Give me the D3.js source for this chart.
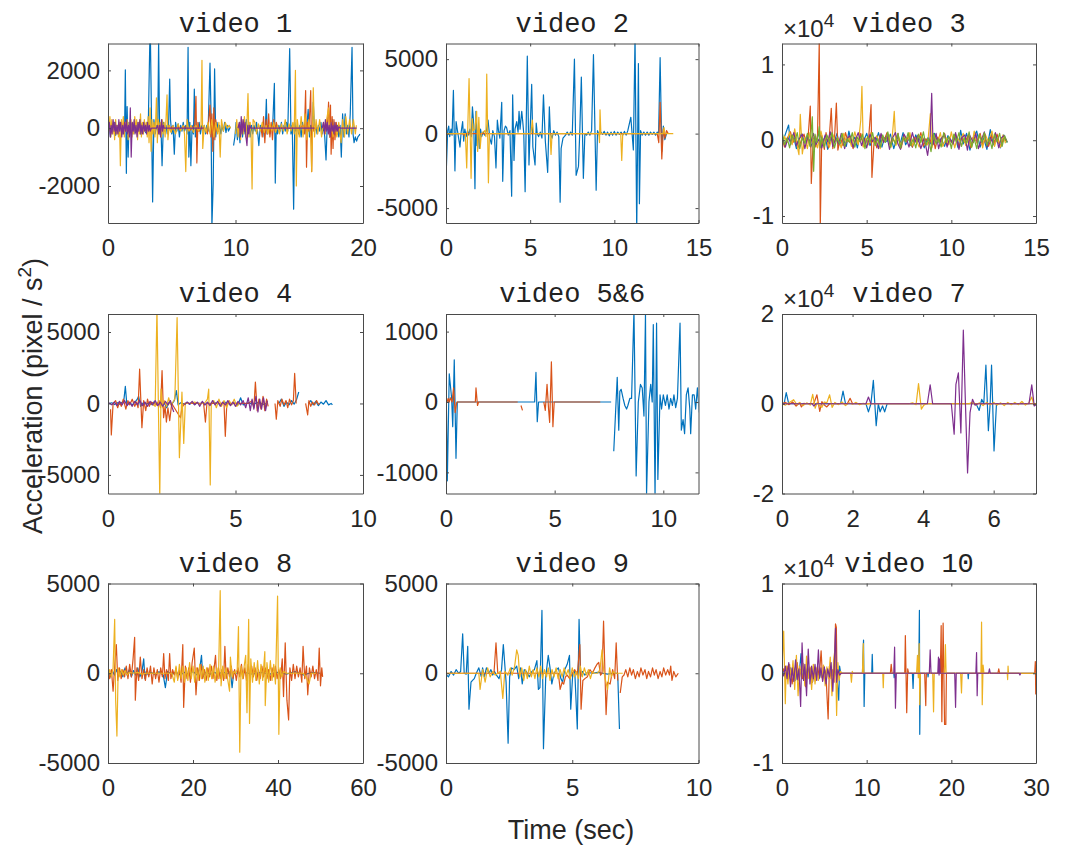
<!DOCTYPE html>
<html><head><meta charset="utf-8">
<script src="https://cdn.jsdelivr.net/npm/d3@7"></script>
<style>body{margin:0;background:#fff}</style>
</head><body>
<script>
// ---------------- DATA: [time (sec), acceleration (pixel/s^2)] ----------------
// video 1
const v1_blue=[[0,-200],[0.1,100],[0.2,-300],[0.3,150],[0.4,-100],[0.5,200],[0.6,-250],[0.7,100],[0.8,-150],[0.9,50],[1.0,200],[1.1,-200],[1.2,100],[1.3,-100],[1.36,2020],[1.44,-1560],[1.5,750],[1.58,-1000],[1.65,200],[1.75,-100],[1.85,150],[1.95,-200],[2.05,100],[2.15,-150],[2.25,200],[2.35,-100],[2.45,100],[2.55,-200],[2.65,150],[2.75,-100],[2.85,100],[2.95,-150],[3.05,200],[3.15,-100],[3.28,3000],[3.33,3000],[3.5,-2550],[3.6,300],[3.7,-200],[3.8,100],[3.9,-100],[3.97,3000],[4.05,-200],[4.15,100],[4.24,-1300],[4.35,200],[4.45,-100],[4.55,100],[4.65,-200],[4.75,100],[4.84,1700],[4.9,300],[5.0,-200],[5.1,100],[5.2,-900],[5.3,200],[5.4,-100],[5.5,150],[5.6,-300],[5.7,100],[5.8,-100],[5.9,200],[6.0,-100],[6.1,100],[6.2,-200],[6.28,2800],[6.34,-1000],[6.42,200],[6.5,-1300],[6.6,100],[6.7,-200],[6.77,1350],[6.85,-300],[6.95,100],[7.05,-100],[7.15,200],[7.25,-200],[7.35,100],[7.45,-100],[7.55,100],[7.65,-200],[7.75,100],[7.85,-100],[8.0,2250],[8.08,500],[8.15,-3400],[8.25,-1900],[8.36,2050],[8.45,-300],[8.55,200],[8.65,-100],[8.75,100],[8.85,-200],[8.95,100],[9.05,-100],[9.15,200],[9.25,-150],[9.35,100],[9.45,-100],[9.6,50],[9.75,null],[9.85,-600],[9.95,-300],[10.05,200],[10.15,-400],[10.25,100],[10.35,-500],[10.45,200],[10.55,-300],[10.65,100],[10.75,-200],[10.85,300],[10.95,-100],[11.05,200],[11.15,-300],[11.25,100],[11.35,-200],[11.45,100],[11.55,-100],[11.65,200],[11.75,-200],[11.83,-600],[11.95,100],[12.05,-100],[12.15,200],[12.25,-300],[12.35,100],[12.42,1000],[12.48,-200],[12.6,100],[12.7,-200],[12.8,100],[12.9,-100],[13.05,1550],[13.12,-1900],[13.2,100],[13.3,-200],[13.4,100],[13.5,-100],[13.6,200],[13.7,-200],[13.8,100],[13.9,-100],[14.0,200],[14.1,-100],[14.25,2750],[14.35,-200],[14.45,100],[14.56,-2800],[14.65,200],[14.75,-100],[14.85,100],[14.95,-200],[15.05,100],[15.15,-300],[15.25,200],[15.35,-100],[15.45,100],[15.55,-200],[15.7,650],[15.8,-300],[15.9,100],[16.0,-200],[16.1,900],[16.2,-100],[16.3,100],[16.4,-200],[16.5,100],[16.6,-100],[16.7,200],[16.8,-200],[16.9,100],[17.0,-300],[17.1,-1100],[17.2,200],[17.3,-100],[17.4,100],[17.5,-200],[17.6,300],[17.7,-100],[17.8,100],[17.9,-200],[18.0,100],[18.1,-300],[18.2,100],[18.3,-1000],[18.4,500],[18.5,-300],[18.6,500],[18.7,-200],[18.8,100],[18.9,-300],[19.0,500],[19.14,2800],[19.22,-200],[19.3,-500],[19.4,-300],[19.5,-450],[19.6,-300],[19.7,-250],[19.75,-200]];
const v1_orange=[[4.7,-200],[4.8,100],[4.9,-100],[5.0,50],[5.1,-50],[5.2,0],[5.4,0],[5.5,80],[5.6,-60],[5.8,0],[6.0,50],[6.2,0],[6.4,-80],[6.6,0],[6.8,100],[6.9,1100],[6.97,-1200],[7.05,200],[7.15,-100],[7.3,0],[7.6,0],[7.8,-200],[7.9,300],[8.0,800],[8.07,-300],[8.15,500],[8.22,-800],[8.3,700],[8.38,-400],[8.45,300],[8.55,-100],[8.65,0],[8.7,null],[12.0,0],[12.1,-300],[12.2,400],[12.3,-500],[12.4,300],[12.5,-200],[12.6,500],[12.7,-300],[12.8,200],[12.9,-400],[13.0,300],[13.1,-100],[13.2,200],[13.3,0],[13.5,0],[13.8,0],[14.2,0],[14.6,0],[15.0,0],[15.3,100],[15.4,-200],[15.5,1300],[15.57,-1350],[15.65,200],[15.75,-100],[15.9,1300],[15.97,-1500],[16.05,200],[16.15,-100],[16.3,0],[16.45,0],[16.5,null],[17.2,0],[17.3,900],[17.38,-300],[17.45,800],[17.5,-900],[17.58,400],[17.65,-700],[17.72,300],[17.8,-400],[17.9,200],[18.0,-200],[18.1,100],[18.2,0]];
const v1_yellow=[[0,200],[0.08,-100],[0.15,400],[0.22,-300],[0.3,300],[0.38,-200],[0.45,200],[0.52,-400],[0.6,300],[0.68,-200],[0.75,100],[0.82,-300],[0.9,200],[0.97,-1300],[1.05,300],[1.12,-200],[1.2,400],[1.28,-300],[1.35,200],[1.42,-100],[1.5,300],[1.58,-400],[1.65,200],[1.72,-200],[1.8,300],[1.88,-300],[1.95,200],[2.02,-200],[2.1,400],[2.18,-100],[2.25,300],[2.32,-400],[2.4,200],[2.48,-200],[2.55,500],[2.62,-300],[2.7,200],[2.78,-200],[2.85,300],[2.92,-100],[3.0,200],[3.08,-300],[3.15,400],[3.22,-500],[3.3,700],[3.38,-800],[3.45,300],[3.52,-200],[3.6,200],[3.68,-300],[3.75,400],[3.8,1050],[3.87,-500],[3.95,300],[4.02,-200],[4.1,200],[4.18,-300],[4.25,300],[4.32,-200],[4.4,200],[4.48,-300],[4.55,300],[4.63,1150],[4.7,-400],[4.8,100],[4.95,-150],[5.1,100],[5.3,-200],[5.5,150],[5.7,-100],[5.9,100],[6.0,-200],[6.1,-1500],[6.2,300],[6.35,-100],[6.5,100],[6.7,-150],[6.9,100],[7.1,-100],[7.3,100],[7.37,2350],[7.43,-700],[7.55,100],[7.7,-150],[7.85,200],[8.0,-200],[8.15,300],[8.3,-300],[8.45,200],[8.6,-200],[8.7,200],[8.8,-1000],[8.9,300],[9.05,-100],[9.2,200],[9.35,0],[9.5,100],[9.62,0],[9.7,null],[10.0,-200],[10.1,300],[10.2,-300],[10.3,200],[10.4,-400],[10.5,300],[10.6,-200],[10.7,400],[10.8,-300],[10.9,200],[10.98,1200],[11.05,-300],[11.15,200],[11.22,-200],[11.3,-2100],[11.38,300],[11.52,200],[11.65,-200],[11.8,150],[11.95,-100],[12.1,200],[12.25,-150],[12.4,100],[12.55,-200],[12.7,150],[12.85,-100],[13.0,200],[13.15,-150],[13.3,100],[13.45,-200],[13.6,150],[13.75,-100],[13.9,300],[14.05,-200],[14.2,150],[14.35,-100],[14.5,200],[14.6,-200],[14.7,2000],[14.77,-2000],[14.85,300],[15.0,-300],[15.15,400],[15.3,-300],[15.45,500],[15.6,-400],[15.75,300],[15.9,-300],[15.98,-1500],[16.1,1400],[16.2,-300],[16.32,300],[16.45,-200],[16.6,300],[16.75,-300],[16.9,200],[17.05,-200],[17.15,300],[17.3,700],[17.38,-300],[17.5,200],[17.65,-300],[17.8,200],[17.95,-300],[18.1,200],[18.28,-500],[18.4,300],[18.55,-300],[18.65,400],[18.8,-200],[18.95,300],[19.1,-200],[19.25,300],[19.4,-200],[19.48,100]];
const v1_purple=[[0,0],[0.1,200],[0.18,-300],[0.25,100],[0.32,-200],[0.4,300],[0.48,-100],[0.55,200],[0.62,-200],[0.7,100],[0.78,-200],[0.85,300],[0.92,-100],[1.0,200],[1.08,-300],[1.15,100],[1.22,-200],[1.3,200],[1.38,-100],[1.45,300],[1.52,-200],[1.6,100],[1.68,-300],[1.75,700],[1.82,-1000],[1.9,200],[1.98,-100],[2.05,300],[2.12,-200],[2.2,100],[2.28,-300],[2.35,200],[2.42,-100],[2.5,300],[2.58,-200],[2.65,100],[2.72,-200],[2.8,200],[2.88,-100],[2.95,100],[3.02,-200],[3.1,200],[3.18,-100],[3.25,100],[3.32,-100],[3.4,0],[3.8,0],[3.9,100],[3.98,-200],[4.05,100],[4.12,-300],[4.2,300],[4.28,-100],[4.35,100],[4.4,0],[5,0],[6,0],[7,0],[7.5,0],[7.6,null],[10.2,0],[10.3,200],[10.38,-300],[10.45,400],[10.52,-200],[10.6,300],[10.68,-100],[10.75,200],[10.82,-300],[10.9,-600],[10.98,100],[11.05,-200],[11.12,100],[11.2,0],[12,0],[13,0],[14,0],[15,0],[16,0],[16.2,0],[16.3,null],[16.8,0],[16.9,200],[16.98,-200],[17.05,300],[17.12,-100],[17.2,200],[17.28,-200],[17.35,100],[17.42,-300],[17.5,200],[17.58,-100],[17.65,100],[17.72,-200],[17.8,200],[17.88,-100],[17.95,100],[18.02,-100],[18.1,50],[18.2,0],[18.5,0],[19,0],[19.5,0]];
// video 2
const v2_blue=[[0.02,-2400],[0.1,200],[0.16,500],[0.22,-200],[0.3,300],[0.36,-100],[0.44,2900],[0.53,-2500],[0.6,800],[0.68,200],[0.75,-300],[0.83,-900],[0.9,100],[0.99,800],[1.05,-500],[1.12,300],[1.2,-200],[1.28,200],[1.35,-100],[1.42,300],[1.5,-200],[1.57,1800],[1.65,600],[1.72,-3700],[1.78,1500],[1.84,-800],[1.9,200],[1.98,-1000],[2.05,300],[2.12,-200],[2.2,100],[2.3,-100],[2.4,200],[2.5,900],[2.6,-300],[2.7,-700],[2.78,200],[2.88,-200],[2.97,-2300],[3.05,900],[3.12,200],[3.2,-300],[3.31,2100],[3.37,-3200],[3.45,200],[3.53,500],[3.6,400],[3.7,-100],[3.8,200],[3.9,-4200],[3.96,2600],[4.04,-1800],[4.1,300],[4.2,800],[4.28,100],[4.34,1500],[4.4,300],[4.5,1500],[4.56,800],[4.62,0],[4.7,-3900],[4.83,5200],[4.93,-2100],[5.0,300],[5.09,3300],[5.16,-900],[5.29,-2100],[5.36,700],[5.42,0],[5.5,-200],[5.6,100],[5.7,-300],[5.79,2600],[5.9,-500],[6.04,-2600],[6.14,1800],[6.2,0],[6.3,-300],[6.4,200],[6.5,-100],[6.6,100],[6.7,-200],[6.78,-4600],[6.84,-1000],[6.95,-300],[7.1,-100],[7.2,100],[7.3,-100],[7.4,100],[7.5,-100],[7.63,5000],[7.73,-2800],[7.87,-2200],[7.95,200],[8.04,3800],[8.16,-3000],[8.25,0],[8.35,-100],[8.45,100],[8.55,-100],[8.65,200],[8.76,5300],[8.92,-3800],[9.0,200],[9.1,-100],[9.2,100],[9.3,-50],[9.4,150],[9.5,-100],[9.6,100],[9.7,-150],[9.8,100],[9.9,-100],[10.0,150],[10.1,-100],[10.2,100],[10.3,-50],[10.4,100],[10.5,-100],[10.6,150],[10.7,-100],[10.8,200],[10.98,1100],[11.13,-1100],[11.23,6500],[11.33,-6500],[11.43,4700],[11.49,-4700],[11.56,200],[11.65,-100],[11.75,100],[11.85,-100],[11.95,100],[12.05,-100],[12.15,100],[12.25,-50],[12.35,100],[12.45,-100],[12.55,100],[12.63,0],[12.72,5100],[12.82,-1200],[12.91,500],[13.0,-400],[13.1,0]];
const v2_orange=[[0,0],[1.0,0],[1.05,-100],[1.1,0],[12.55,0],[12.64,-600],[12.72,2100],[12.82,-1700],[12.91,300],[13.0,-300],[13.1,200],[13.2,0]];
const v2_yellow=[[0,0],[1.15,0],[1.23,-2300],[1.37,3700],[1.49,-3000],[1.56,1000],[1.62,200],[1.72,300],[1.82,1500],[1.88,-1200],[1.95,1100],[2.03,-1000],[2.1,0],[2.3,200],[2.37,-200],[2.42,4000],[2.52,-3300],[2.58,0],[5.05,0],[5.13,900],[5.2,0],[6.18,0],[6.24,-1400],[6.3,0],[9.08,0],[9.12,-600],[9.15,1600],[9.2,0],[10.38,0],[10.44,-1800],[10.5,0],[12.9,0],[12.95,400],[13.0,0],[13.5,0]];
// video 3
const v3_blue=[[0,-500],[0.2,800],[0.39,2000],[0.5,-600],[0.7,300],[0.85,-1100],[1.0,200],[1.15,900],[1.3,-300],[1.5,600],[1.7,-900],[1.85,100],[2.0,-400],[2.2,1100],[2.4,-200],[2.55,500],[2.7,-1200],[2.9,300],[3.1,-100],[3.25,900],[3.4,-600],[3.6,200],[3.8,-800],[3.95,1200],[4.1,-300],[4.3,400],[4.45,-1000],[4.6,600],[4.8,-200],[5.0,900],[5.2,-700],[5.35,100],[5.5,-400],[5.7,1000],[5.9,-900],[6.05,300],[6.2,-200],[6.4,800],[6.6,-1100],[6.8,400],[7.0,-300],[7.15,1000],[7.3,-600],[7.5,200],[7.7,-900],[7.9,700],[8.05,-200],[8.2,500],[8.4,-1000],[8.6,300],[8.8,-500],[9.0,900],[9.2,-300],[9.4,200],[9.6,-800],[9.8,600],[10.0,-200],[10.2,700],[10.4,-1000],[10.55,1300],[10.7,-500],[10.9,900],[11.1,-1300],[11.3,400],[11.5,1200],[11.7,-900],[11.9,300],[12.1,-1200],[12.3,1400],[12.5,-600],[12.7,200],[12.9,-1000],[13.1,700],[13.3,-300]];
const v3_orange=[[0,300],[0.15,-900],[0.3,200],[0.5,1100],[0.65,-300],[0.8,400],[1.0,-1000],[1.15,100],[1.3,800],[1.45,-500],[1.55,700],[1.67,4500],[1.73,-5700],[1.85,300],[2.0,-900],[2.1,800],[2.2,13000],[2.26,-11500],[2.35,600],[2.5,-1200],[2.6,1000],[2.75,-1000],[2.91,4200],[3.0,-1100],[3.1,200],[3.21,4900],[3.3,-1300],[3.45,300],[3.6,-700],[3.75,1000],[3.9,-200],[4.05,500],[4.2,-1100],[4.35,300],[4.5,-400],[4.65,900],[4.8,-800],[4.95,200],[5.1,-300],[5.26,4700],[5.31,-4900],[5.45,300],[5.6,-1000],[5.8,700],[6.0,-200],[6.2,1000],[6.4,-700],[6.55,200],[6.7,-400],[6.85,900],[7.0,-1000],[7.2,300],[7.35,-200],[7.5,800],[7.7,-900],[7.85,400],[8.0,-300],[8.2,1000],[8.35,-800],[8.5,200],[8.7,-500],[8.9,700],[9.05,-1100],[9.2,400],[9.4,-200],[9.6,900],[9.75,-700],[9.9,100],[10.1,-500],[10.25,800],[10.45,-900],[10.6,300],[10.8,-300],[11.0,700],[11.15,-1000],[11.3,400],[11.5,-200],[11.7,900],[11.85,-600],[12.0,200],[12.2,-800],[12.4,600],[12.55,-300],[12.7,800],[12.9,-900],[13.1,300],[13.25,-200]];
const v3_yellow=[[0,-900],[0.15,500],[0.3,-300],[0.45,1100],[0.6,-600],[0.75,1500],[0.9,-800],[1.0,-1900],[1.08,3400],[1.2,-1800],[1.35,300],[1.5,-1100],[1.65,1000],[1.8,-300],[1.95,500],[2.1,-1000],[2.3,1200],[2.45,-300],[2.6,400],[2.8,-900],[3.0,800],[3.15,-200],[3.3,300],[3.5,-1000],[3.65,900],[3.8,-300],[3.95,400],[4.1,-800],[4.3,1100],[4.5,-600],[4.65,2600],[4.72,7100],[4.8,-900],[4.95,200],[5.1,-600],[5.25,1000],[5.4,-300],[5.6,600],[5.8,-1100],[5.95,400],[6.1,-200],[6.3,800],[6.45,-900],[6.55,1500],[6.63,3800],[6.72,-700],[6.9,300],[7.05,-1000],[7.2,700],[7.4,-200],[7.55,1000],[7.7,-700],[7.9,200],[8.1,-900],[8.25,600],[8.45,-300],[8.6,-600],[8.76,3500],[8.85,-1000],[9.0,400],[9.2,-300],[9.35,1000],[9.5,-800],[9.7,300],[9.85,-600],[10.0,1100],[10.2,-1000],[10.35,400],[10.5,-200],[10.7,900],[10.85,-700],[11.0,200],[11.2,-900],[11.35,1200],[11.5,-400],[11.7,600],[11.85,-1000],[12.0,800],[12.2,-300],[12.4,1200],[12.55,-800],[12.7,300],[12.9,-900],[13.05,700],[13.2,-400]];
const v3_purple=[[0,400],[0.2,-900],[0.35,300],[0.5,-200],[0.7,1000],[0.85,-700],[1.0,100],[1.2,800],[1.35,-1100],[1.5,400],[1.7,-300],[1.85,900],[2.0,-600],[2.2,200],[2.35,-1000],[2.55,700],[2.7,-200],[2.85,1100],[3.0,-800],[3.2,300],[3.35,-500],[3.5,900],[3.7,-1100],[3.85,200],[4.0,600],[4.2,-900],[4.35,100],[4.5,1000],[4.7,-700],[4.85,300],[5.0,-1000],[5.2,800],[5.35,-200],[5.5,400],[5.7,-1100],[5.85,900],[6.0,-300],[6.2,600],[6.35,-1200],[6.5,200],[6.7,1000],[6.85,-500],[7.0,-1200],[7.2,800],[7.35,200],[7.5,-900],[7.7,1000],[7.85,-300],[8.0,600],[8.2,-1100],[8.4,300],[8.6,-2000],[8.75,500],[8.84,6200],[8.92,-600],[9.1,900],[9.25,-1100],[9.4,200],[9.6,800],[9.75,-900],[9.9,300],[10.1,-500],[10.25,1000],[10.45,-1200],[10.6,300],[10.8,700],[10.95,-1300],[11.1,600],[11.3,-300],[11.45,900],[11.6,-1100],[11.8,200],[11.95,1100],[12.1,-900],[12.3,400],[12.45,-400],[12.6,1000],[12.8,-1000],[12.95,300],[13.1,600],[13.3,-200]];
const v3_green=[[0,1200],[0.15,-600],[0.3,300],[0.45,-1000],[0.6,700],[0.75,-200],[0.9,1000],[1.05,-1100],[1.2,300],[1.35,-400],[1.5,900],[1.65,-800],[1.79,3100],[1.87,-4100],[1.95,800],[2.05,-300],[2.15,900],[2.2,1800],[2.26,-1000],[2.35,400],[2.5,-900],[2.65,700],[2.8,-200],[2.95,1000],[3.1,-1000],[3.25,300],[3.4,-500],[3.55,900],[3.7,-800],[3.85,200],[4.0,-300],[4.15,1000],[4.3,-900],[4.45,400],[4.6,-200],[4.75,800],[4.9,-1100],[5.05,500],[5.2,-300],[5.35,1000],[5.5,-700],[5.65,200],[5.8,-900],[5.95,700],[6.1,-300],[6.25,1100],[6.4,-900],[6.55,300],[6.7,-500],[6.85,900],[7.0,-1000],[7.15,400],[7.3,-200],[7.45,1000],[7.6,-700],[7.75,200],[7.9,-1000],[8.05,800],[8.2,-300],[8.35,1100],[8.5,-700],[8.65,300],[8.8,-1500],[8.95,900],[9.1,-500],[9.25,200],[9.4,-900],[9.55,1000],[9.7,-300],[9.85,500],[10.0,-1100],[10.15,800],[10.3,-200],[10.45,1000],[10.6,-800],[10.75,300],[10.9,-400],[11.05,1100],[11.2,-900],[11.35,200],[11.5,-1100],[11.65,800],[11.8,-300],[11.95,1000],[12.1,-700],[12.25,300],[12.4,-1100],[12.55,800],[12.7,-200],[12.85,900],[13.0,-800],[13.15,600],[13.3,-300]];
// video 4
const v4_blue=[[0.05,0],[0.15,50],[0.25,-80],[0.35,60],[0.45,-50],[0.55,80],[0.62,200],[0.68,1200],[0.74,-100],[0.85,50],[0.95,-100],[1.05,80],[1.15,300],[1.2,500],[1.28,-200],[1.4,100],[1.5,-50],[1.6,50],[1.7,-80],[1.8,100],[1.9,-50],[2.0,50],[2.1,-100],[2.2,50],[2.3,-300],[2.4,100],[2.5,-50],[2.6,200],[2.68,900],[2.75,-100],[2.85,50],[3.0,-50],[3.1,80],[3.2,-60],[3.3,50],[3.4,-80],[3.5,60],[3.6,-50],[3.7,80],[3.8,-100],[3.9,60],[4.0,-50],[4.2,50],[4.4,-50],[4.6,80],[4.8,-60],[5.0,50],[5.1,-100],[5.2,400],[5.3,-100],[5.5,50],[5.7,-50],[5.9,80],[6.1,-60],[6.2,0],[6.25,null],[6.7,0],[6.8,300],[6.9,-200],[7.0,100],[7.1,-100],[7.2,200],[7.3,-50],[7.4,300],[7.48,800],[7.55,null],[7.85,0],[7.95,200],[8.05,-100],[8.15,150],[8.25,-150],[8.35,100],[8.45,-50],[8.55,200],[8.65,-100],[8.75,0],[8.8,-100]];
const v4_orange=[[0.1,-400],[0.13,-2200],[0.2,0],[0.3,200],[0.38,-300],[0.45,100],[0.52,-200],[0.6,300],[0.7,-400],[0.78,200],[0.85,-100],[0.95,300],[1.05,-200],[1.12,100],[1.18,-300],[1.24,2400],[1.33,-1700],[1.4,200],[1.48,-500],[1.55,300],[1.62,-200],[1.7,100],[1.8,0],[1.9,-100],[2.0,200],[2.06,-300],[2.12,2300],[2.18,-1000],[2.24,-200],[2.29,-1300],[2.35,-300],[2.42,-1200],[2.5,0],[2.84,-1000],[2.9,-300],[3.0,0],[3.75,0],[3.82,-1300],[3.88,0],[4.55,0],[4.6,-2300],[4.66,0],[5.5,0],[5.65,200],[5.72,-300],[5.78,1500],[5.85,-500],[5.92,300],[6.0,-400],[6.08,500],[6.15,-500],[6.22,300],[6.28,-200],[6.3,null],[6.55,0],[6.6,-1100],[6.66,200],[6.75,-200],[6.82,300],[6.9,-100],[6.98,200],[7.05,-300],[7.12,300],[7.2,-100],[7.27,200],[7.32,2100],[7.38,0],[7.45,null],[7.75,0],[7.83,-800],[7.88,200],[7.95,-200],[8.02,100],[8.1,-100],[8.18,200],[8.25,-50],[8.3,0]];
const v4_yellow=[[1.7,0],[1.85,-200],[1.92,6600],[2.03,-6600],[2.08,1000],[2.14,-300],[2.2,200],[2.3,-200],[2.38,400],[2.45,-100],[2.55,100],[2.62,300],[2.71,6000],[2.8,-3800],[2.9,800],[2.97,-2800],[3.03,0],[3.2,0],[3.4,100],[3.6,-50],[3.8,50],[3.9,300],[3.95,1000],[4.01,-5700],[4.05,0],[4.15,200],[4.25,-300],[4.35,300],[4.45,-200],[4.55,200],[4.65,-300],[4.75,200],[4.85,-100],[4.95,300],[5.05,-200],[5.15,0]];
const v4_purple=[[0.05,50],[0.15,-100],[0.25,100],[0.35,-150],[0.45,150],[0.55,-100],[0.65,200],[0.75,-150],[0.85,100],[0.95,-200],[1.05,150],[1.15,-100],[1.25,200],[1.35,-150],[1.45,100],[1.55,-200],[1.65,150],[1.75,-100],[1.85,200],[1.95,-150],[2.05,100],[2.15,-200],[2.25,150],[2.35,-100],[2.45,200],[2.52,-300],[2.58,-600],[2.62,null],[3.0,-100],[3.1,100],[3.2,-50],[3.3,150],[3.4,-100],[3.5,100],[3.6,-200],[3.7,150],[3.8,-100],[3.9,100],[4.0,-150],[4.1,200],[4.2,-100],[4.3,150],[4.4,-200],[4.5,100],[4.6,-100],[4.7,200],[4.8,-150],[4.9,100],[5.0,-200],[5.1,150],[5.2,-100],[5.3,200],[5.4,-300],[5.5,400],[5.58,-500],[5.65,300],[5.72,-400],[5.8,500],[5.88,-600],[5.95,300],[6.02,-400],[6.1,400],[6.18,-500],[6.25,200]];
// video 5&6
const v5_blue=[[0.02,-100],[0.06,-1120],[0.15,400],[0.26,50],[0.31,-350],[0.38,600],[0.46,-800],[0.52,0],[1,0],[2,0],[3,0],[4.08,0],[4.14,420],[4.2,-280],[4.26,0],[5,0],[6,0],[7,0],[7.6,0],[7.65,null],[7.72,-700],[7.88,350],[7.95,-400],[8.0,150],[8.06,180],[8.15,50],[8.23,-50],[8.31,-100],[8.37,-50],[8.46,50],[8.54,50],[8.65,1300],[8.75,-1050],[8.85,0],[8.95,250],[9.03,200],[9.11,-200],[9.18,1250],[9.23,-1300],[9.34,0],[9.42,250],[9.49,0],[9.54,1100],[9.62,-1350],[9.69,1120],[9.75,-1100],[9.85,100],[9.92,-100],[10.0,100],[10.1,-50],[10.18,100],[10.26,-100],[10.34,50],[10.42,-50],[10.49,100],[10.57,-80],[10.65,50],[10.77,1120],[10.83,-400],[10.91,-250],[10.98,-450],[11.06,100],[11.14,200],[11.22,-100],[11.26,-450],[11.34,100],[11.42,100],[11.49,-100],[11.57,200],[11.65,-150]];
const v5_orange=[[0,30],[0.05,0],[0.1,50],[0.15,0],[0.2,60],[0.28,0],[0.35,200],[0.42,-150],[0.5,0],[1.35,0],[1.38,200],[1.45,-50],[1.5,0],[3.3,0],[3.35,null],[3.45,-50],[3.52,-120],[3.55,null],[4.5,0],[4.57,-120],[4.65,250],[4.72,-100],[4.77,-290],[4.85,570],[4.92,-350],[4.98,0],[6,0],[7.1,0]];
// video 7
const v7_blue=[[0,0],[0.06,0],[0.12,2500],[0.19,0],[1.66,0],[1.73,2800],[1.8,0],[2.38,0],[2.45,-1800],[2.52,0],[2.59,5200],[2.67,-4900],[2.73,0],[2.78,-1800],[2.85,-500],[2.91,-1800],[2.98,0],[5.5,0],[5.59,-1500],[5.66,1000],[5.72,0],[5.78,8600],[5.85,-6000],[5.9,0],[5.94,8600],[6.01,-10500],[6.08,0],[7.2,0]];
const v7_orange=[[0,0],[0.1,300],[0.2,-200],[0.3,400],[0.4,-500],[0.5,200],[0.55,-700],[0.62,100],[0.7,0],[0.9,0],[0.99,2000],[1.07,-1700],[1.13,500],[1.2,-300],[1.27,-700],[1.35,0],[1.85,0],[1.93,1200],[2.0,0],[7.2,0]];
const v7_yellow=[[0,0],[0.1,-300],[0.2,200],[0.33,900],[0.42,-200],[0.5,300],[0.6,-400],[0.7,200],[0.8,-300],[0.87,2100],[0.94,-1000],[1.0,300],[1.07,-500],[1.13,-800],[1.2,400],[1.27,200],[1.35,2000],[1.42,-800],[1.5,300],[1.6,-200],[1.7,400],[1.8,-400],[1.9,200],[2.0,-100],[2.1,300],[2.2,-200],[2.3,100],[2.4,-100],[2.5,0],[3.6,0],[3.7,200],[3.8,-200],[3.87,4500],[3.95,-1200],[4.02,-300],[4.1,0],[5.3,0],[5.4,400],[5.5,-300],[5.6,200],[5.7,-400],[5.8,300],[5.9,-200],[6.0,300],[6.1,-300],[6.2,200],[6.3,-400],[6.4,300],[6.5,-200],[6.6,300],[6.7,-200],[6.8,500],[6.9,-300],[7.0,200],[7.08,1500],[7.14,-300],[7.2,0]];
const v7_purple=[[0,0],[0.85,0],[0.9,-500],[0.97,0],[2.38,0],[2.45,1500],[2.52,0],[4.12,0],[4.2,4200],[4.27,0],[4.8,0],[4.88,-6800],[4.93,4300],[5.0,6900],[5.07,-6500],[5.14,16400],[5.2,0],[5.26,-15400],[5.33,-2000],[5.4,1000],[5.47,-300],[5.55,0],[7.0,0],[7.08,4200],[7.15,-500],[7.2,-200]];
// video 8
const v8_blue=[[0,100],[0.5,-200],[1,150],[1.5,-100],[2,200],[2.5,-150],[3,100],[3.5,-200],[4,300],[4.5,-100],[5,200],[5.5,-200],[6,150],[6.5,-100],[7,300],[7.5,-200],[8,100],[8.4,800],[8.7,-300],[9,100],[9.5,-100],[10,50],[11,-50],[12,80],[13,-100],[13.5,-800],[14,100],[15,-50],[16,50],[17,-100],[18,50],[19,-50],[20,100],[21,-100],[21.6,300],[22,1000],[22.3,-200],[23,50],[24,-50],[25,50],[26,-50],[27,100],[28,-50],[28.8,100],[29.2,-800],[29.6,100],[30,0],[32,50],[34,-50],[36,50],[38,-50],[40,50],[42,-50],[44,100],[46,-100],[48,50],[50,0]];
const v8_orange=[[0,300],[0.4,-300],[0.8,200],[1.2,-1000],[1.6,500],[1.96,1600],[2.3,-400],[2.7,300],[3.1,-300],[3.5,200],[3.9,-200],[4.3,400],[4.7,-300],[5.1,500],[5.5,-200],[5.9,800],[6.27,2000],[6.43,-1500],[6.8,300],[7.2,-400],[7.6,900],[8.0,-300],[8.4,200],[8.8,-400],[9.2,300],[9.6,-200],[10.0,400],[10.4,-600],[10.8,300],[11.2,-300],[11.6,200],[12.0,-500],[12.4,300],[12.8,-200],[13.1,1100],[13.4,-300],[13.8,200],[14.2,-400],[14.5,1100],[14.8,-300],[15.2,200],[15.6,-100],[16.0,300],[16.4,-300],[16.8,200],[17.2,-500],[17.6,1600],[17.8,-1900],[18.2,400],[18.6,-300],[19.0,300],[19.4,-500],[19.8,600],[20.3,1400],[20.7,-1200],[21.1,300],[21.5,-400],[21.9,500],[22.3,-300],[22.7,200],[23.1,-400],[23.5,300],[23.9,-200],[24.3,400],[24.7,-300],[25.3,1000],[25.6,-400],[26.0,300],[26.4,-300],[26.8,200],[27.2,-400],[27.5,1500],[27.8,-300],[28.2,300],[28.6,-200],[29.0,400],[29.4,-300],[29.8,200],[30.2,-400],[30.6,300],[31.0,-200],[31.4,500],[31.8,-300],[32.2,300],[32.6,-400],[33.0,500],[33.4,-300],[33.8,400],[34.2,-200],[34.6,300],[35.0,-400],[35.4,200],[35.8,-300],[36.2,400],[36.6,-200],[37.0,300],[37.4,-300],[37.8,200],[38.2,-400],[38.6,300],[39.0,-200],[39.4,400],[39.8,-300],[40.2,200],[40.6,-300],[41.0,800],[41.3,-1300],[41.7,1700],[42.1,-1500],[42.5,-2600],[42.8,300],[43.2,-400],[43.6,500],[44.0,-300],[44.4,400],[44.8,-200],[45.2,300],[45.6,-500],[45.9,1500],[46.3,-300],[46.7,400],[47.0,-1200],[47.4,300],[47.8,-200],[48.2,400],[48.6,-300],[49.0,200],[49.4,-400],[49.7,1400],[50.0,-700],[50.3,300],[50.5,-200]];
const v8_yellow=[[0,-300],[0.4,200],[0.8,-200],[1.2,300],[1.57,3000],[1.8,-1500],[2.1,-3500],[2.4,300],[2.8,-200],[3.2,200],[3.6,-100],[4.0,150],[4.5,-100],[5,50],[6,0],[7,50],[8,-50],[9,0],[12,0],[15,0],[15.6,-500],[16.0,400],[16.4,-400],[16.8,500],[17.2,-300],[17.6,400],[18.0,-500],[18.4,300],[18.8,-400],[19.2,600],[19.6,-300],[20.0,400],[20.4,-500],[20.8,300],[21.2,-400],[21.6,500],[22.0,-300],[22.4,400],[22.8,-500],[23.2,300],[23.6,-400],[24.0,500],[24.4,-300],[24.8,400],[25.2,-500],[25.6,300],[26.0,-300],[26.4,4600],[26.6,-700],[27.0,400],[27.4,-300],[27.8,300],[28.2,-400],[28.6,-1000],[28.8,900],[29.2,-200],[29.6,100],[30.0,0],[30.4,200],[30.7,2600],[31.0,-4400],[31.3,400],[31.7,-300],[32.1,500],[32.4,1000],[32.7,-2200],[33.1,3000],[33.3,-2800],[33.6,800],[34.0,-500],[34.4,600],[34.8,-400],[35.2,700],[35.6,-600],[36.0,500],[36.4,-400],[36.9,1200],[37.0,-1800],[37.4,600],[37.8,-500],[38.2,700],[38.6,-400],[39.0,500],[39.4,-600],[39.9,4300],[40.2,-3400],[40.5,300],[40.9,-200],[41.3,100],[42,0],[46,0],[46.8,-300],[47.3,-600],[47.8,0],[49,0]];
// video 9
const v9_blue=[[0.02,-100],[0.1,-200],[0.2,100],[0.3,-100],[0.4,200],[0.5,0],[0.58,100],[0.66,2200],[0.72,0],[0.8,-50],[0.86,1500],[0.91,-2000],[0.99,-500],[1.05,-400],[1.12,-300],[1.2,0],[1.3,300],[1.4,-200],[1.45,300],[1.52,-200],[1.6,300],[1.7,0],[1.78,200],[1.85,-100],[1.92,100],[2.0,-100],[2.1,-300],[2.2,200],[2.27,1600],[2.38,-500],[2.46,-3900],[2.52,-200],[2.6,300],[2.7,200],[2.8,400],[2.88,-300],[2.95,300],[3.02,-600],[3.1,200],[3.18,100],[3.3,-200],[3.4,100],[3.5,200],[3.6,700],[3.66,-900],[3.72,-800],[3.8,3500],[3.86,-4200],[3.95,-200],[4.05,1000],[4.12,300],[4.19,-600],[4.28,0],[4.38,200],[4.45,300],[4.55,-300],[4.62,-500],[4.7,200],[4.8,500],[4.89,1000],[4.94,-2000],[5.02,0],[5.1,100],[5.2,-3100],[5.27,3000],[5.33,-200],[5.4,100],[5.5,-100],[5.6,50],[5.8,0],[6.0,50],[6.2,0],[6.4,-50],[6.6,0],[6.8,0],[6.87,-3100]];
const v9_orange=[[0,0],[1.9,0],[1.98,1700],[2.05,0],[4.45,0],[4.52,-900],[4.6,-500],[4.66,-600],[4.73,-200],[4.8,-100],[4.9,-300],[5.0,0],[5.1,200],[5.2,-100],[5.3,1600],[5.35,-2000],[5.42,-400],[5.5,-300],[5.6,-200],[5.7,200],[5.8,0],[5.9,300],[5.98,500],[6.05,600],[6.12,-100],[6.18,0],[6.24,2900],[6.34,-2300],[6.4,-500],[6.5,-600],[6.6,200],[6.68,-300],[6.74,1700],[6.8,-400],[6.86,null],[6.9,-1100],[6.98,-200],[7.05,-100],[7.12,200],[7.2,-200],[7.28,300],[7.35,-100],[7.42,200],[7.5,-300],[7.58,100],[7.65,-200],[7.72,300],[7.8,-100],[7.88,200],[7.95,-300],[8.02,100],[8.1,-200],[8.18,300],[8.25,-100],[8.32,200],[8.4,-300],[8.48,100],[8.55,-200],[8.62,300],[8.7,-100],[8.78,200],[8.85,-100],[8.9,400],[8.95,-400],[9.02,100],[9.1,-200],[9.2,0]];
const v9_yellow=[[0,0],[1.3,0],[1.35,-900],[1.45,200],[1.55,-500],[1.65,300],[1.75,-200],[1.85,100],[1.95,-100],[2.05,0],[2.15,100],[2.25,-1400],[2.33,100],[2.45,-100],[2.55,300],[2.62,-100],[2.72,400],[2.8,1300],[2.86,1000],[2.92,-200],[3.0,300],[3.08,-400],[3.15,200],[3.22,-300],[3.3,400],[3.38,-200],[3.45,200],[3.52,-300],[3.6,300],[3.68,-200],[3.75,400],[3.82,-300],[3.9,200],[3.98,-200],[4.05,300],[4.12,-400],[4.2,200],[4.28,-200],[4.36,300],[4.44,-300],[4.52,200],[4.6,-200],[4.68,300],[4.76,-100],[4.84,200],[4.92,-300],[5.0,300],[5.08,-200],[5.16,100],[5.24,-300],[5.32,400],[5.4,-200],[5.48,300],[5.56,-100],[5.64,200],[5.72,-300],[5.8,100],[5.88,0],[6.0,0],[6.1,200],[6.18,1300],[6.24,200],[6.3,-300],[6.4,-900],[6.48,300],[6.55,-200],[6.62,100],[6.7,0],[7.0,0]];
// video 10
const v10_blue=[[0,0],[0.2,300],[0.4,-500],[0.6,200],[0.8,-300],[1.0,600],[1.2,-200],[1.4,400],[1.6,-800],[1.8,300],[2.0,-400],[2.25,2200],[2.4,-600],[2.6,300],[2.8,-500],[3.0,800],[3.2,-300],[3.4,500],[3.6,-1000],[3.8,400],[4.0,-200],[4.2,300],[4.4,-600],[4.6,200],[4.8,-300],[5.0,500],[5.2,-200],[5.4,300],[5.6,-400],[5.8,200],[6.0,-300],[6.2,500],[6.5,-600],[6.7,-3000],[6.8,800],[6.9,200],[7.0,0],[9.5,0],[9.63,3700],[9.7,-3700],[9.78,0],[10.6,0],[10.66,2100],[10.72,0],[13.2,0],[13.25,-500],[13.3,0],[15.4,0],[15.48,-1700],[15.55,0],[16.15,0],[16.23,7000],[16.27,-6800],[16.35,0],[17.2,0],[17.25,-400],[17.3,0],[21.95,0],[22.0,-600],[22.05,0],[30,0]];
const v10_orange=[[0,0],[0.2,500],[0.4,-300],[0.6,800],[0.8,-600],[1.0,300],[1.2,-1200],[1.4,600],[1.6,-400],[1.8,1200],[2.0,-800],[2.2,400],[2.4,-600],[2.6,300],[2.8,-1500],[3.0,900],[3.2,-400],[3.4,600],[3.6,-1000],[3.8,500],[4.0,-700],[4.2,800],[4.4,-400],[4.62,2500],[4.8,-800],[5.0,600],[5.2,-300],[5.45,-5100],[5.6,800],[5.8,-600],[6.0,400],[6.15,-1000],[6.32,5500],[6.42,5100],[6.5,-800],[6.6,300],[6.8,0],[12.8,0],[12.9,1000],[13.0,0],[14.5,0],[14.57,4200],[14.73,-4400],[14.85,500],[14.95,0],[16.85,0],[16.98,-3600],[17.05,0],[18.7,0],[18.8,5300],[18.88,-5400],[18.95,0],[19.03,5600],[19.2,-5700],[19.35,-5700],[19.42,0],[25.5,0],[25.6,500],[25.7,0],[29.85,0],[29.92,1300],[29.97,-2300],[30,-2000]];
const v10_yellow=[[0,500],[0.2,4700],[0.39,-3400],[0.5,800],[0.7,-1200],[0.9,1000],[1.1,-600],[1.3,1400],[1.5,-1800],[1.7,2000],[1.9,-2500],[2.1,800],[2.3,-500],[2.5,1100],[2.7,-1400],[2.9,1900],[3.1,-600],[3.3,700],[3.5,-1800],[3.7,1000],[3.9,-1200],[4.1,600],[4.3,-800],[4.5,400],[4.7,-500],[4.9,900],[5.1,-1400],[5.3,700],[5.5,-600],[5.7,1800],[5.9,-2500],[6.1,1500],[6.3,3000],[6.45,-4700],[6.6,1200],[6.75,-800],[6.9,200],[7.1,0],[8.1,0],[8.2,-1000],[8.3,200],[8.4,0],[9.5,0],[9.6,3300],[9.66,0],[11.9,0],[11.96,-1600],[12.02,0],[15.9,0],[16.0,2000],[16.1,-500],[16.2,3300],[16.27,-3500],[16.35,0],[17.8,0],[17.9,-4300],[17.98,0],[19.2,0],[19.3,3200],[19.38,0],[21.1,0],[21.2,-2200],[21.28,0],[23.5,0],[23.57,5700],[23.65,-3500],[23.75,900],[23.85,0],[26.6,0],[26.65,-700],[26.7,800],[26.75,0],[30,0]];
const v10_purple=[[0,0],[0.2,-300],[0.4,800],[0.6,-600],[0.8,1200],[1.0,-1500],[1.2,600],[1.4,-900],[1.6,1500],[1.8,-700],[2.0,500],[2.2,-3700],[2.37,3400],[2.55,-800],[2.7,1000],[2.9,-2500],[3.1,2700],[3.3,-1200],[3.5,800],[3.7,-600],[3.9,1000],[4.1,-800],[4.3,2600],[4.45,-500],[4.6,600],[4.8,-900],[5.0,700],[5.2,-1200],[5.4,500],[5.6,-400],[5.8,1200],[6.0,-2000],[6.2,1600],[6.32,5000],[6.45,-1000],[6.6,400],[6.8,-200],[7.0,0],[13.2,0],[13.3,2900],[13.4,-3900],[13.5,0],[17.4,0],[17.5,2600],[17.6,0],[18.4,0],[18.48,1800],[18.55,-200],[18.6,1600],[18.68,0],[20.4,0],[20.5,-3800],[20.58,0],[22.9,0],[22.98,2300],[23.05,-2500],[23.12,0],[24.4,0],[24.5,500],[24.6,0],[28.0,0],[28.1,-200],[28.2,0]];

// ---------------- AXES SETTINGS ----------------
const titles=["video 1","video 2","video 3","video 4","video 5&6","video 7","video 8","video 9","video 10"];
const xDomains=[[0,20],[0,15],[0,15],[0,10],[0,11.62],[0,7.2],[0,60],[0,10],[0,30]];
const yDomains=[[-3280,2930],[-6000,6050],[-10920,12760],[-6300,6260],[-1300,1250],[-20000,20000],[-5000,5000],[-5000,5000],[-10000,10000]];
const xTicks=[[0,10,20],[0,5,10,15],[0,5,10,15],[0,5,10],[0,5,10],[0,2,4,6],[0,20,40,60],[0,5,10],[0,10,20,30]];
const yTicks=[[-2000,0,2000],[-5000,0,5000],[-10000,0,10000],[-5000,0,5000],[-1000,0,1000],[-20000,0,20000],[-5000,0,5000],[-5000,0,5000],[-10000,0,10000]];
const yExponent=[0,0,4,0,0,4,0,0,4];
const COLORS={blue:"#0072BD",orange:"#D95319",yellow:"#EDB120",purple:"#7E2F8E",green:"#77AC30"};
const panelSeries=[
 [[v1_blue,"blue"],[v1_orange,"orange"],[v1_yellow,"yellow"],[v1_purple,"purple"]],
 [[v2_blue,"blue"],[v2_orange,"orange"],[v2_yellow,"yellow"]],
 [[v3_blue,"blue"],[v3_orange,"orange"],[v3_yellow,"yellow"],[v3_purple,"purple"],[v3_green,"green"]],
 [[v4_blue,"blue"],[v4_orange,"orange"],[v4_yellow,"yellow"],[v4_purple,"purple"]],
 [[v5_blue,"blue"],[v5_orange,"orange"]],
 [[v7_blue,"blue"],[v7_orange,"orange"],[v7_yellow,"yellow"],[v7_purple,"purple"]],
 [[v8_blue,"blue"],[v8_orange,"orange"],[v8_yellow,"yellow"]],
 [[v9_blue,"blue"],[v9_orange,"orange"],[v9_yellow,"yellow"]],
 [[v10_blue,"blue"],[v10_orange,"orange"],[v10_yellow,"yellow"],[v10_purple,"purple"]]
];

const colLeft=[108,446,782], colWidth=[255,252.5,254], rowTop=[43.5,314,583.5], rowHeight=179.5;
const SANS="'Liberation Sans', Arial, Helvetica, sans-serif";
const TXT="#262626", AXC="#4a4a4a";

const svg=d3.select("body").append("svg").attr("width",1065).attr("height",848)
  .style("font-family",SANS);

panelSeries.forEach((series,i)=>{
  const r=Math.floor(i/3), c=i%3;
  const L=colLeft[c], T=rowTop[r], Wd=colWidth[c], Hh=rowHeight;
  const x=d3.scaleLinear().domain(xDomains[i]).range([L,L+Wd]);
  const y=d3.scaleLinear().domain(yDomains[i]).range([T+Hh,T]);
  const cid="clip"+i;
  svg.append("clipPath").attr("id",cid).append("rect").attr("x",L).attr("y",T).attr("width",Wd).attr("height",Hh);
  const lg=svg.append("g").attr("clip-path",`url(#${cid})`);
  const line=d3.line().defined(d=>d[1]!==null).x(d=>x(d[0])).y(d=>y(d[1]));
  series.forEach(([data,col])=>{
    lg.append("path").datum(data).attr("d",line).attr("fill","none")
      .attr("stroke",COLORS[col]).attr("stroke-width",1.2).attr("stroke-linejoin","round");
  });
  const ex=yExponent[i];
  const yfmt=v=>String(ex? v/Math.pow(10,ex): v);
  const xfmt=v=>String(v);
  const style=(g)=>{
    g.selectAll(".domain").attr("stroke",AXC).attr("stroke-width",1);
    g.selectAll(".tick line").attr("stroke",AXC).attr("stroke-width",1);
    g.selectAll(".tick text").attr("fill",TXT).style("font-size","24px").style("font-family",SANS);
  };
  svg.append("g").attr("transform",`translate(0,${T+Hh})`)
    .call(d3.axisBottom(x).tickValues(xTicks[i]).tickFormat(xfmt).tickSizeInner(-3).tickSizeOuter(0).tickPadding(16)).call(style);
  svg.append("g").attr("transform",`translate(0,${T})`)
    .call(d3.axisTop(x).tickValues(xTicks[i]).tickFormat("").tickSizeInner(-3).tickSizeOuter(0)).call(style);
  svg.append("g").attr("transform",`translate(${L},0)`)
    .call(d3.axisLeft(y).tickValues(yTicks[i]).tickFormat(yfmt).tickSizeInner(-3).tickSizeOuter(0).tickPadding(8)).call(style);
  svg.append("g").attr("transform",`translate(${L+Wd},0)`)
    .call(d3.axisRight(y).tickValues(yTicks[i]).tickFormat("").tickSizeInner(-3).tickSizeOuter(0)).call(style);
  // title
  svg.append("text").attr("x",L+Wd/2).attr("y",T-12).attr("text-anchor","middle")
    .style("font-family","'Liberation Mono','Courier New',Courier,monospace").style("font-size","27px")
    .attr("fill","#222").text(titles[i]);
  // exponent label
  if(ex){
    const t=svg.append("text").attr("x",L+1).attr("y",T-7).attr("fill",TXT).style("font-size","24px");
    t.append("tspan").text("\u00D710");
    t.append("tspan").attr("dy",-10).style("font-size","19px").text(String(ex));
  }
});

// axis labels
const yl=svg.append("text").attr("transform","translate(42,396) rotate(-90)").attr("text-anchor","middle")
  .attr("fill",TXT).style("font-size","27px");
yl.append("tspan").text("Acceleration (pixel / s");
yl.append("tspan").attr("dy",-11).style("font-size","19px").text("2");
yl.append("tspan").attr("dy",11).text(")");
svg.append("text").attr("x",571).attr("y",839).attr("text-anchor","middle").attr("fill",TXT)
  .style("font-size","27px").text("Time (sec)");
</script>
</body></html>
